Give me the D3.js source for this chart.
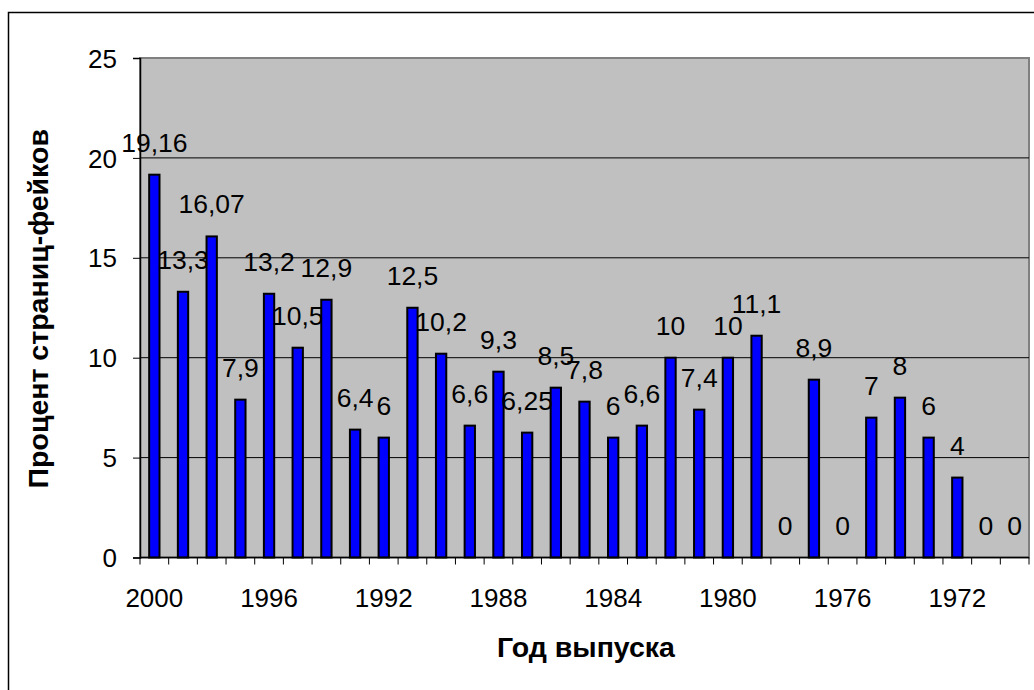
<!DOCTYPE html>
<html>
<head>
<meta charset="utf-8">
<script src="https://cdn.jsdelivr.net/npm/d3@7"></script>
<style>
  body { margin:0; background:#fff; }
  svg text { font-family:"Liberation Sans", Arial, sans-serif; fill:#000; }
</style>
</head>
<body>
<div id="canvas"></div>
<script>
// years (categories) and percent of fake pages per year
var years = ['2000','1999','1998','1997','1996','1995','1994','1993','1992','1991','1990',
             '1989','1988','1987','1986','1985','1984','1983','1982','1981','1980',
             '1979','1978','1977','1976','1975','1974','1973','1972','1971','1970'];
var fakePct = [19.16, 13.3, 16.07, 7.9, 13.2, 10.5, 12.9, 6.4, 6, 12.5, 10.2,
               6.6, 9.3, 6.25, 8.5, 7.8, 6, 6.6, 10, 7.4, 10,
               11.1, 0, 8.9, 0, 7, 8, 6, 4, 0, 0];
var yearTicks = ['2000','1996','1992','1988','1984','1980','1976','1972'];
var yTicks = [0, 5, 10, 15, 20, 25];

var W = 1034, H = 690;
var m = {t:58, l:140, r:5, b:132.5};

var svg = d3.select('#canvas').append('svg')
    .attr('width', W).attr('height', H);

// outer chart frame (runs past the window on the right / bottom)
svg.append('rect')
    .attr('x', 8.5).attr('y', 12.5)
    .attr('width', 1040).attr('height', 700)
    .attr('fill', '#fff').attr('stroke', '#000').attr('stroke-width', 1.5);

var x = d3.scaleBand().domain(years).range([m.l, W - m.r]);
var y = d3.scaleLinear().domain([0, 25]).range([H - m.b, m.t]);

// plot area
svg.append('rect')
    .attr('x', x.range()[0]).attr('y', y(25))
    .attr('width', x.range()[1] - x.range()[0]).attr('height', y(0) - y(25))
    .attr('fill', '#c0c0c0').attr('stroke', '#808080').attr('stroke-width', 2);

// gridlines
svg.selectAll('.grid').data(yTicks.filter(function(d){ return d > 0 && d < 25; }))
  .enter().append('line').attr('class','grid')
    .attr('x1', x.range()[0]).attr('x2', x.range()[1])
    .attr('y1', function(d){ return y(d); }).attr('y2', function(d){ return y(d); })
    .attr('stroke', '#000').attr('stroke-width', 1);

// bars
var bw = x.bandwidth() * 0.36;
svg.selectAll('.bar').data(fakePct)
  .enter().append('rect').attr('class','bar')
    .attr('x', function(d,i){ return x(years[i]) + x.bandwidth()/2 - bw/2; })
    .attr('y', function(d){ return y(d); })
    .attr('width', bw)
    .attr('height', function(d){ return y(0) - y(d); })
    .attr('fill', '#0000ff').attr('stroke', '#000').attr('stroke-width', 2)
    .style('display', function(d){ return d > 0 ? null : 'none'; });

// data labels
svg.selectAll('.lbl').data(fakePct)
  .enter().append('text').attr('class','lbl')
    .attr('x', function(d,i){ return x(years[i]) + x.bandwidth()/2; })
    .attr('y', function(d){ return y(d) - 23; })
    .attr('text-anchor', 'middle')
    .style('font-size', '26.5px')
    .text(function(d){ return String(d).replace('.', ','); });

// y axis
var yAxis = svg.append('g').attr('transform', 'translate(' + m.l + ',0)')
    .call(d3.axisLeft(y).tickValues(yTicks).tickSize(7).tickPadding(16));
yAxis.select('.domain').attr('stroke', '#000').attr('stroke-width', 1.5);
yAxis.selectAll('text').style('font-size', '26px').attr('dy', '0.35em');

// x axis: a tick on every category boundary, labels every 4 years
var xg = svg.append('g');
xg.append('line')
    .attr('x1', x.range()[0]).attr('x2', x.range()[1])
    .attr('y1', y(0)).attr('y2', y(0))
    .attr('stroke', '#000').attr('stroke-width', 1.5);
xg.selectAll('.xt').data(years.concat(['end']))
  .enter().append('line').attr('class','xt')
    .attr('x1', function(d,i){ return x.range()[0] + i * x.step(); })
    .attr('x2', function(d,i){ return x.range()[0] + i * x.step(); })
    .attr('y1', y(0)).attr('y2', y(0) + 7)
    .attr('stroke', '#000').attr('stroke-width', 1);
xg.selectAll('.xl').data(yearTicks)
  .enter().append('text').attr('class','xl')
    .attr('x', function(d){ return x(d) + x.bandwidth()/2; })
    .attr('y', 607)
    .attr('text-anchor', 'middle')
    .style('font-size', '26px')
    .text(function(d){ return d; });

// axis titles
svg.append('text')
    .attr('x', 586).attr('y', 657)
    .attr('text-anchor', 'middle')
    .style('font-size', '28.5px').style('font-weight', 'bold')
    .text('Год выпуска');

svg.append('text')
    .attr('transform', 'translate(48,' + ((y(0) + y(25)) / 2 + 1) + ') rotate(-90)')
    .attr('text-anchor', 'middle')
    .style('font-size', '28.5px').style('font-weight', 'bold')
    .text('Процент страниц-фейков');
</script>
</body>
</html>
